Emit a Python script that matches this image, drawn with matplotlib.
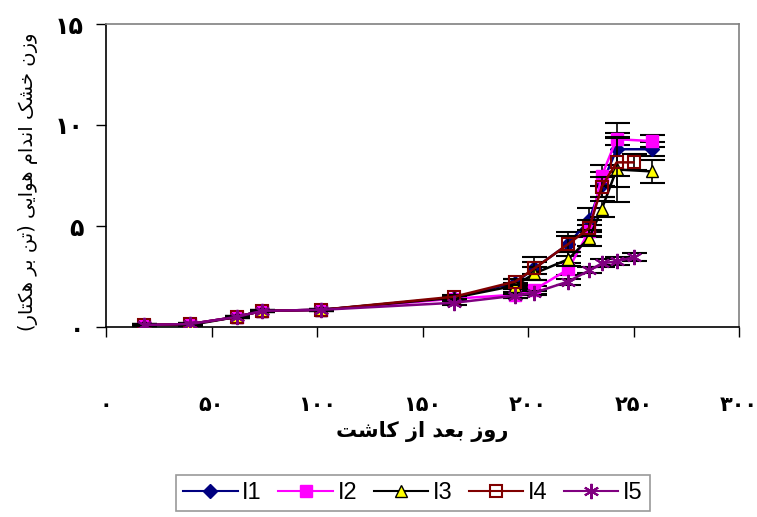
import numpy as np
import matplotlib.pyplot as plt
from matplotlib.lines import Line2D

days_a = [18, 40, 62, 74, 102, 165, 194, 203, 219, 229, 235, 242, 259]
days_b = [18, 40, 62, 74, 102, 165, 194, 203, 219, 229, 235, 242, 250]

i1 = [0.1, 0.15, 0.5, 0.8, 0.85, 1.45, 2.2, 2.9, 4.1, 5.3, 7.05, 8.8, 8.8]
i2 = [0.1, 0.15, 0.5, 0.8, 0.85, 1.4, 1.6, 1.85, 2.85, 4.75, 7.5, 9.3, 9.2]
i3 = [0.1, 0.1, 0.5, 0.8, 0.85, 1.45, 2.05, 2.65, 3.35, 4.4, 5.85, 7.8, 7.7]
i4 = [0.1, 0.15, 0.5, 0.8, 0.85, 1.5, 2.25, 2.9, 4.1, 4.9, 6.95, 8.15, 8.15]
i5 = [0.1, 0.15, 0.5, 0.8, 0.85, 1.2, 1.55, 1.7, 2.25, 2.8, 3.15, 3.25, 3.45]

i1_err = [0.05, 0.05, 0.05, 0.05, 0.05, 0.1, 0.2, 0.55, 0.6, 0.6, 0.6, 1.3, 0.35]
i2_err = [0.05, 0.05, 0.05, 0.05, 0.05, 0.1, 0.15, 0.2, 0.3, 0.3, 0.5, 0.3, 0.3]
i3_err = [0.05, 0.05, 0.05, 0.05, 0.05, 0.1, 0.15, 0.3, 0.35, 0.4, 0.4, 1.6, 0.55]
i4_err = [0.05, 0.05, 0.05, 0.05, 0.05, 0.1, 0.15, 0.3, 0.4, 0.4, 0.5, 1.2, 0.4]
i5_err = [0.05, 0.05, 0.05, 0.05, 0.05, 0.1, 0.1, 0.1, 0.15, 0.15, 0.2, 0.2, 0.2]

x_ticks = [0, 50, 100, 150, 200, 250, 300]
y_ticks = [0, 5, 10, 15]
series_names = ['I1', 'I2', 'I3', 'I4', 'I5']

ylabel_fa = 'وزن خشک اندام هوایی (تن بر هکتار)'
xlabel_fa = 'روز بعد از کاشت'

# formas: aislada, final, inicial, media
formas = {
    'ا': ('\uFE8D', '\uFE8E', None, None),
    'ب': ('\uFE8F', '\uFE90', '\uFE91', '\uFE92'),
    'ت': ('\uFE95', '\uFE96', '\uFE97', '\uFE98'),
    'خ': ('\uFEA5', '\uFEA6', '\uFEA7', '\uFEA8'),
    'د': ('\uFEA9', '\uFEAA', None, None),
    'ر': ('\uFEAD', '\uFEAE', None, None),
    'ز': ('\uFEAF', '\uFEB0', None, None),
    'ش': ('\uFEB5', '\uFEB6', '\uFEB7', '\uFEB8'),
    'ع': ('\uFEC9', '\uFECA', '\uFECB', '\uFECC'),
    'م': ('\uFEE1', '\uFEE2', '\uFEE3', '\uFEE4'),
    'ن': ('\uFEE5', '\uFEE6', '\uFEE7', '\uFEE8'),
    'ه': ('\uFEE9', '\uFEEA', '\uFEEB', '\uFEEC'),
    'و': ('\uFEED', '\uFEEE', None, None),
    'ک': ('\uFB8E', '\uFB8F', '\uFB90', '\uFB91'),
    'ی': ('\uFBFC', '\uFBFD', '\uFBFE', '\uFBFF'),
}
solo_derecha = set('ادرزو')


def dar_forma(texto):
    letras = list(texto)
    salida = []
    for i, c in enumerate(letras):
        if c not in formas:
            salida.append(c)
            continue
        prev = letras[i - 1] if i > 0 else ''
        sig = letras[i + 1] if i + 1 < len(letras) else ''
        une_prev = prev in formas and prev not in solo_derecha
        une_sig = sig in formas and c not in solo_derecha
        aisl, fin, ini, med = formas[c]
        if une_prev and une_sig:
            salida.append(med)
        elif une_prev:
            salida.append(fin)
        elif une_sig:
            salida.append(ini)
        else:
            salida.append(aisl)
    visual = ''.join(reversed(salida))
    return visual.translate(str.maketrans('()', ')('))


def num_fa(n):
    return str(n).translate(str.maketrans('0123456789', '۰۱۲۳۴۵۶۷۸۹'))


fig = plt.figure(figsize=(7.57, 5.17), dpi=100)
ax = fig.add_axes([106 / 757, 1 - 327 / 517, (739 - 106) / 757, (327 - 24) / 517])

estilos = [
    dict(color='#000080', marker='D', markersize=7, mfc='#000080', mec='#000080'),
    dict(color='#FF00FF', marker='s', markersize=8, mfc='#FF00FF', mec='#FF00FF'),
    dict(color='black', marker='^', markersize=9, mfc='#FFFF00', mec='black'),
    dict(color='#800000', marker='s', markersize=8, mfc='none', mec='#800000', mew=1.5),
    dict(color='#800080', marker=(6, 2, 0), markersize=11, mfc='#800080', mec='#800080', mew=1.5),
]

datos = [(days_a, i1, i1_err), (days_a, i2, i2_err), (days_a, i3, i3_err),
         (days_b, i4, i4_err), (days_b, i5, i5_err)]

for k, (xs, ys, es) in enumerate(datos):
    ax.errorbar(xs, ys, yerr=es, fmt='none', ecolor='black', elinewidth=1.2,
                capsize=9, capthick=1.5, zorder=2 + k)
    ax.plot(xs, ys, lw=1.8, zorder=2.5 + k, **estilos[k])

ax.set_xlim(0, 300)
ax.set_ylim(0, 15)
ax.set_xticks(x_ticks)
ax.set_yticks(y_ticks)
ax.set_xticklabels([num_fa(v) for v in x_ticks], fontsize=15, fontweight='bold',
                   family='DejaVu Sans')
ax.set_yticklabels([num_fa(v) for v in y_ticks], fontsize=17, fontweight='bold',
                   family='DejaVu Sans')
ax.tick_params(axis='x', direction='out', length=7, width=1, pad=42)
ax.tick_params(axis='y', direction='out', length=7, width=1, pad=9)

for lado in ['top', 'right']:
    ax.spines[lado].set_color('#808080')
    ax.spines[lado].set_linewidth(1.2)
for lado in ['left', 'bottom']:
    ax.spines[lado].set_color('black')
    ax.spines[lado].set_linewidth(1.2)

fig.text(28 / 757, 1 - 182 / 517, dar_forma(ylabel_fa), rotation=90, ha='center',
         va='center', fontsize=14, family='DejaVu Sans')
fig.text(422 / 757, 1 - 431 / 517, dar_forma(xlabel_fa), ha='center', va='center',
         fontsize=15, fontweight='bold', family='DejaVu Sans')

manijas = [Line2D([0], [0], lw=1.5, **estilos[k]) for k in range(5)]
leg = fig.legend(manijas, series_names, loc='upper center', ncol=5,
                 bbox_to_anchor=(413 / 757, 1 - 475 / 517), frameon=True,
                 fancybox=False, edgecolor='#808080',
                 prop={'family': 'Liberation Sans', 'size': 17},
                 handlelength=2.3, handletextpad=0.2, columnspacing=0.7,
                 borderpad=0.3, borderaxespad=0)
leg.get_frame().set_linewidth(1.2)

fig.savefig('out.png', dpi=100)
